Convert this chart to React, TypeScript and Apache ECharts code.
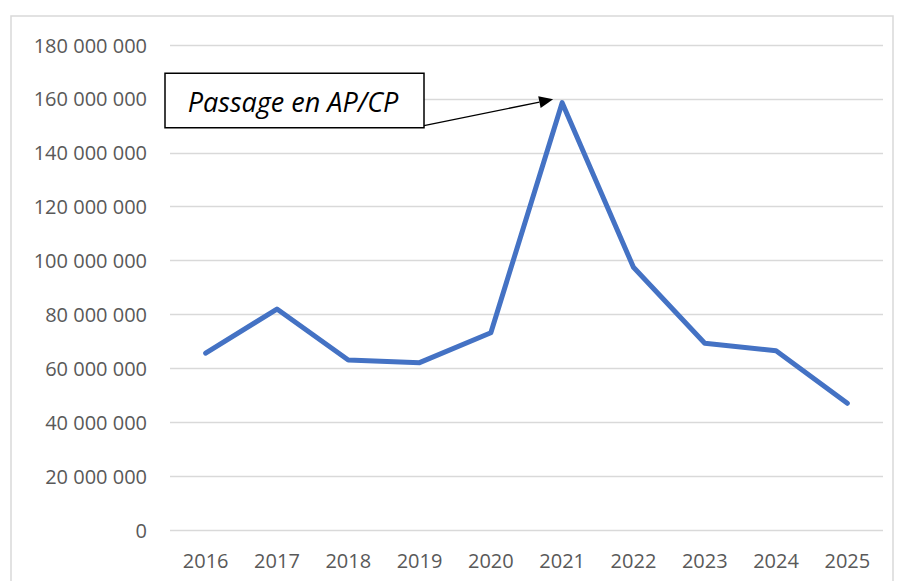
import React, { useEffect, useRef } from "react";
import * as echarts from "echarts";

const years = ["2016", "2017", "2018", "2019", "2020", "2021", "2022", "2023", "2024", "2025"];
const values = [65600000, 82000000, 63100000, 62100000, 73200000, 158600000, 97500000, 69300000, 66500000, 47000000];
const annotationText = "Passage en AP/CP";
const annotationYear = "2021";

const fmt = (v: number) => String(v).replace(/\B(?=(\d{3})+(?!\d))/g, " ");

export default function App() {
  const ref = useRef<HTMLDivElement>(null);
  useEffect(() => {
    if (!ref.current) return;
    const chart = echarts.init(ref.current, null, { renderer: "svg" });
    const font = "'Open Sans', sans-serif";
    chart.setOption({
      animation: false,
      grid: { left: 170, right: 15, top: 45, bottom: 51, containLabel: false },
      xAxis: {
        type: "category",
        data: years,
        boundaryGap: true,
        axisLine: { show: false },
        axisTick: { show: false },
        axisLabel: { color: "#595959", fontSize: 20, fontFamily: font, margin: 20 },
        splitLine: { show: false },
      },
      yAxis: {
        type: "value",
        min: 0,
        max: 180000000,
        interval: 20000000,
        axisLine: { show: false },
        axisTick: { show: false },
        axisLabel: { color: "#595959", fontSize: 20, fontFamily: font, margin: 23, formatter: (v: number) => fmt(v) },
        splitLine: { show: true, lineStyle: { color: "#d9d9d9", width: 1.3 } },
      },
      series: [
        {
          type: "line",
          data: values,
          symbol: "none",
          lineStyle: { color: "#4472C4", width: 5, cap: "round", join: "round" },
        },
      ],
    });

    const idx = years.indexOf(annotationYear);
    const peak = chart.convertToPixel({ seriesIndex: 0 }, [idx, values[idx]]) as number[];
    const tip = [peak[0] - 9, peak[1] - 3.4];
    const start = [424, 125.7];
    const dx = tip[0] - start[0];
    const dy = tip[1] - start[1];
    const len = Math.sqrt(dx * dx + dy * dy);
    const ux = dx / len;
    const uy = dy / len;
    const headLen = 14;
    const headW = 6;
    const bx = tip[0] - ux * headLen;
    const by = tip[1] - uy * headLen;
    chart.setOption({
      graphic: [
        {
          type: "rect",
          shape: { x: 11, y: 16, width: 882, height: 600 },
          style: { fill: "none", stroke: "#d9d9d9", lineWidth: 1.5 },
          silent: true,
          z: 0,
        },
        {
          type: "rect",
          shape: { x: 165, y: 73.3, width: 259, height: 54.4 },
          style: { fill: "#ffffff", stroke: "#000000", lineWidth: 1.5 },
          z: 10,
        },
        {
          type: "text",
          x: 293,
          y: 101,
          style: {
            text: annotationText,
            fill: "#000000",
            font: "italic 27px 'Open Sans', sans-serif",
            align: "center",
            verticalAlign: "middle",
          },
          z: 11,
        },
        {
          type: "line",
          shape: { x1: start[0], y1: start[1], x2: bx, y2: by },
          style: { stroke: "#000000", lineWidth: 1.3 },
          z: 10,
        },
        {
          type: "polygon",
          shape: {
            points: [
              [tip[0], tip[1]],
              [bx - uy * headW, by + ux * headW],
              [bx + uy * headW, by - ux * headW],
            ],
          },
          style: { fill: "#000000" },
          z: 10,
        },
      ],
    });
    return () => chart.dispose();
  }, []);
  return <div ref={ref} style={{ position: "fixed", left: 0, top: 0, width: 898, height: 581, background: "#fff" }} />;
}
